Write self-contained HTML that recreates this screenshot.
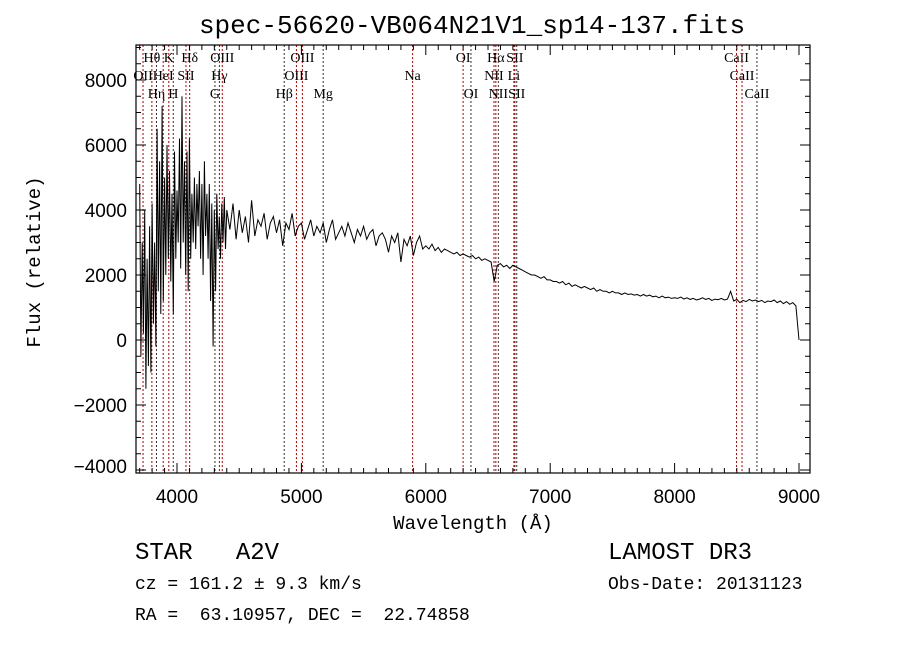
<!DOCTYPE html>
<html><head><meta charset="utf-8"><style>
html,body{margin:0;padding:0;background:#fff;}
svg{display:block;}
</style></head><body>
<svg id="chart" width="900" height="649" xmlns="http://www.w3.org/2000/svg">
<rect width="900" height="649" fill="#fff"/>
<text x="472" y="33" text-anchor="middle" font-family="Liberation Mono, monospace" font-size="26">spec-56620-VB064N21V1_sp14-137.fits</text>
<g id="lines"></g>
<g id="spec"></g>
<g id="axes"></g>
<text x="473" y="529" text-anchor="middle" font-family="Liberation Mono, monospace" font-size="19">Wavelength (Å)</text>
<text transform="translate(40,262) rotate(-90)" text-anchor="middle" font-family="Liberation Mono, monospace" font-size="19">Flux (relative)</text>
<text x="135" y="559" font-family="Liberation Mono, monospace" font-size="24" xml:space="preserve">STAR   A2V</text>
<text x="608" y="559" font-family="Liberation Mono, monospace" font-size="24">LAMOST DR3</text>
<text x="135" y="589" font-family="Liberation Mono, monospace" font-size="18" xml:space="preserve">cz = 161.2 ± 9.3 km/s</text>
<text x="608" y="589" font-family="Liberation Mono, monospace" font-size="18">Obs-Date: 20131123</text>
<text x="135" y="620" font-family="Liberation Mono, monospace" font-size="18" xml:space="preserve">RA =  63.10957, DEC =  22.74858</text>
</svg>
<script>
const blueStart = 3700, blueStep = 10;
const fluxBlue = [4800,-500,3000,200,4000,-1500,2500,-800,3500,-1000,4200,500,3000,-200,6500,1500,5500,800,7200,1200,5000,2000,6000,2500,5200,1800,4500,800,5800,2500,4600,3000,6200,2200,7500,3000,5500,2000,5800,1500,6200,2500,4500,3000,5000,2800,4800,3500,5200,2500,4800,2000,5500,3200,4500,2500,4800,1200,4200,-200,4000,1500,4500,2800,3800,2500,4200,3000,4400,2800,4000];
const redStart = 4425, redStep = 25;
const fluxRed = [3400,4200,3100,4000,3300,3800,3000,4300,3200,3700,3500,3900,3100,3600,3800,3300,3700,2900,3600,3400,3900,3200,3500,
3600,3100,3400,3700,3200,3500,3300,3600,3000,3400,3700,3100,3300,3500,3200,3600,3300,3000,3400,3200,3500,3100,3300,3400,2900,3200,3300,3100,2700,3200,3000,3300,2400,3100,2900,3200,2600,3000,3200,2800,
2900,2800,2950,2750,2850,2700,2800,2750,2700,2650,2700,2600,2650,2600,2550,2600,2500,2550,2450,2500,2450,2400,1800,2300,2350,2250,2300,2200,2300,2250,2200,2150,2100,2050,2000,2000,1950,1900,1950,1850,
1850,1800,1800,1750,1800,1700,1750,1650,1700,1650,1600,1650,1600,1550,1600,1500,1550,1500,1500,1450,1500,1450,1450,1400,1450,1400,1420,1380,1400,1350,1400,1350,1380,1330,1350,1300,1350,1300,1320,1280,
1300,1280,1320,1260,1300,1250,1280,1230,1260,1300,1250,1280,1220,1260,1240,1280,1230,1260,1500,1200,1250,1150,1220,1180,1250,1200,1230,1180,1220,1150,1200,1180,1230,1150,1200,1120,1180,1100,1150,1050,0];
const xTicks = [4000,5000,6000,7000,8000,9000];
const yTicks = [-4000,-2000,0,2000,4000,6000,8000];
const lineWl = [3727,3798,3835,3889,3934,3970,4072,4102,4305,4341,4364,4862,4960,5008,5175,5894,6300,6363,6548,6563,6583,6708,6716,6731,8498,8542,8662];
const lineLabel = ["OII","Hθ","Hη","HeI","K","H","SII","Hδ","G","Hγ","OIII","Hβ","OIII","OIII","Mg","Na","OI","OI","NII","Hα","NII","Li","SII","SII","CaII","CaII","CaII"];
const lineRow = [2,1,3,2,1,3,2,1,3,2,1,3,2,1,3,2,1,3,2,1,3,2,1,3,1,2,3];

const X0=136,X1=810,Y0=45,Y1=473;
const xs = w => 177 + (w-4000)*0.1244;
const ys = f => 340 - f/2000*65;
const NS="http://www.w3.org/2000/svg";
function mk(tag,attrs,parent){const e=document.createElementNS(NS,tag);for(const k in attrs)e.setAttribute(k,attrs[k]);parent.appendChild(e);return e;}

const lg=document.getElementById('lines');
const rowY={1:62,2:80,3:98};
lineWl.forEach((w,i)=>{
  const x=xs(w);
  const ln=mk('line',{x1:x,x2:x,y1:Y0,y2:Y1,stroke:(i%3==2?'#333':'#b00000'),'stroke-width':1,'stroke-dasharray':'2,2'},lg);
  
  
  const t=mk('text',{x:x,y:rowY[lineRow[i]],'text-anchor':'middle','font-family':'Liberation Serif, serif','font-size':14},lg);
  t.textContent=lineLabel[i];
  
  
});

const pts=[];
fluxBlue.forEach((f,i)=>pts.push(xs(blueStart+i*blueStep).toFixed(1)+','+ys(f).toFixed(1)));
fluxRed.forEach((f,i)=>pts.push(xs(redStart+i*redStep).toFixed(1)+','+ys(f).toFixed(1)));
const sp=mk('polyline',{points:pts.join(' '),fill:'none',stroke:'#000','stroke-width':1},document.getElementById('spec'));



const ax=document.getElementById('axes');
const box=mk('rect',{x:X0,y:Y0,width:X1-X0,height:Y1-Y0,fill:'none',stroke:'#000','stroke-width':1.2},ax);


for(let w=3700;w<=9000;w+=100){
  const x=xs(w), major=w%1000==0, L=major?10:5;
  mk('line',{x1:x,x2:x,y1:Y1,y2:Y1-L,stroke:'#000'},ax);
  mk('line',{x1:x,x2:x,y1:Y0,y2:Y0+L,stroke:'#000'},ax);
}
xTicks.forEach(w=>{
  const t=mk('text',{x:xs(w),y:503,'text-anchor':'middle','font-family':'Liberation Sans, sans-serif','font-size':19},ax);
  t.textContent=w;
  
  
});
for(let f=-4000;f<=9000;f+=500){
  const y=ys(f); if(y<Y0||y>Y1)continue;
  const L=f%2000==0?10:5;
  mk('line',{x1:X0,x2:X0+L,y1:y,y2:y,stroke:'#000'},ax);
  mk('line',{x1:X1,x2:X1-L,y1:y,y2:y,stroke:'#000'},ax);
}
yTicks.forEach(f=>{
  const t=mk('text',{x:127,y:Math.min(ys(f),466)+7,'text-anchor':'end','font-family':'Liberation Sans, sans-serif','font-size':19},ax);
  t.textContent=f<0?'−'+(-f):f;
  
  
});
</script>
</body></html>
